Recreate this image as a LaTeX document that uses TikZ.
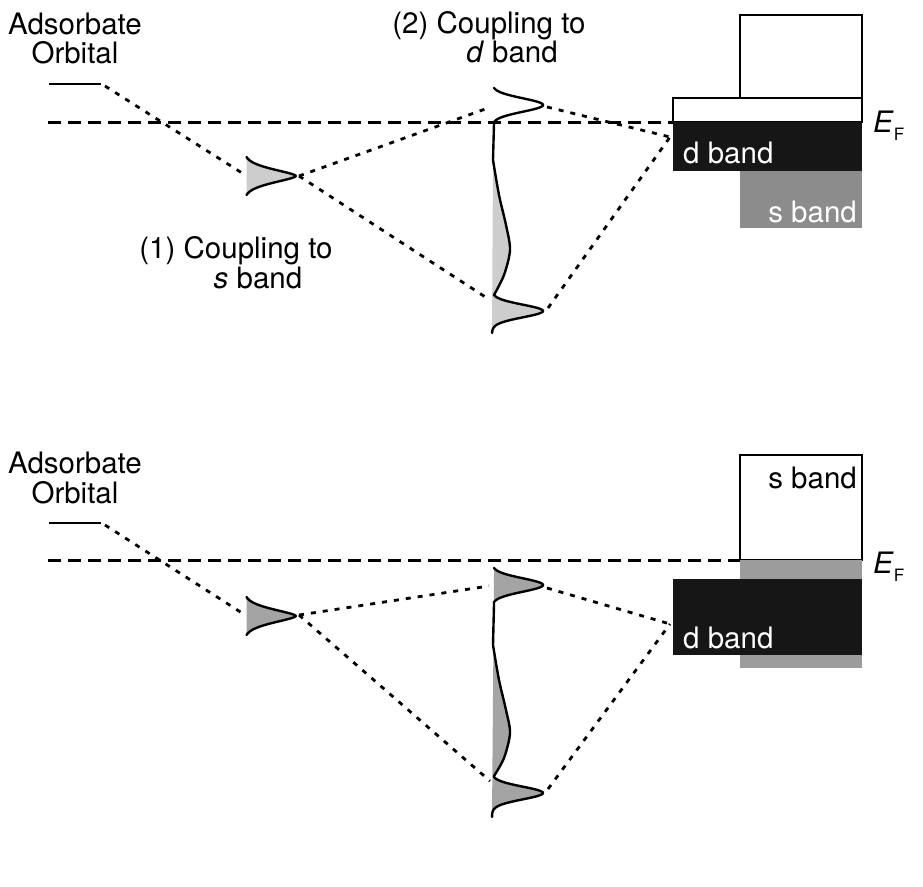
\documentclass[tikz,border=0pt]{standalone}
\usepackage{fontspec}
\setmainfont{TeX Gyre Heros}
\definecolor{bandblack}{HTML}{161616}
\definecolor{sgray}{HTML}{8C8C8C}
\definecolor{stripgray}{HTML}{9C9C9C}
\definecolor{lightpeak}{HTML}{CDCDCD}
\definecolor{darkpeak}{HTML}{A4A4A4}
\begin{document}
\begin{tikzpicture}[x=1pt,y=-1pt,
  fermi/.style={line width=3pt, dash pattern=on 13pt off 7pt},
  conn/.style={line width=2.8pt, dash pattern=on 5pt off 7pt},
  curve/.style={line width=2.4pt, line join=round, line cap=round},
  level/.style={line width=2.8pt},
  boxline/.style={line width=2pt},
  lbl/.style={font=\fontsize{29.5}{34}\selectfont, inner sep=0pt},
  wlbl/.style={lbl, text=white}
]
\useasboundingbox (0,0) rectangle (923,886);

% ================= TOP PANEL =================
\node[lbl, anchor=base] (adsTa) at (75,34) {Adsorbate};
\node[lbl, anchor=base] (adsTb) at (75,63) {Orbital};
\node[lbl, anchor=base] (cpTa) at (489,33) {(2) Coupling to};
\node[lbl, anchor=base] (cpTb) at (512,62) {\textit{d} band};
\node[lbl, anchor=base] (csTa) at (236,258) {(1) Coupling to};
\node[lbl, anchor=base] (csTb) at (258,288) {\textit{s} band};

% bands
\draw[boxline, fill=white] (740,15) rectangle (862,98);
\draw[boxline, fill=white] (673,98) rectangle (862,122);
\fill[bandblack] (673,122) rectangle (862,171);
\fill[sgray] (740,171) rectangle (862,228);
\node[wlbl, anchor=base west] (dbT) at (683,163) {d band};
\node[wlbl, anchor=base east] (sbT) at (857,222) {s band};
\node[lbl, anchor=base west] (efT) at (873,132) {\textit{E}\raisebox{-8pt}{\fontsize{17}{17}\selectfont F}};

% Fermi level
\coordinate (fermiTa) at (48,122);
\coordinate (fermiTb) at (673,122);
\draw[fermi] (fermiTa) -- (fermiTb);

% adsorbate level
\coordinate (orbTa) at (49,84);
\coordinate (orbTb) at (101,84);
\draw[level] (orbTa) -- (orbTb);

% s-coupled peak
\fill[lightpeak] plot[domain=-19:19, samples=60, variable=\t] ({244+52*exp(-pow(abs(\t)/9.5,1.6))},{176+\t}) -- cycle;
\draw[curve] plot[domain=-19:19, samples=60, variable=\t] ({244+52*exp(-pow(abs(\t)/9.5,1.6))},{176+\t});

% d-coupled DOS
\fill[lightpeak] (493,160) -- plot[smooth] coordinates {(493,160) (499,195) (506,225) (510,250) (504,275) (494,295)}
  -- plot[domain=-16:22, samples=60, variable=\t] ({492+51*exp(-\t*\t/80)},{311+\t}) -- (492,333) -- cycle;
\draw[curve] plot[domain=-17:17, samples=60, variable=\t] ({492+51*exp(-\t*\t/90)},{105+\t})
  -- plot[smooth] coordinates {(493,160) (499,195) (506,225) (510,250) (504,275) (494,295)}
  -- plot[domain=-16:22, samples=60, variable=\t] ({492+51*exp(-\t*\t/80)},{311+\t});

% connector points
\coordinate (orbT) at (105,86);
\coordinate (sLT) at (242,173);
\coordinate (sTipT) at (299,176);
\coordinate (dUbT) at (488,108);
\coordinate (dLbT) at (490,300);
\coordinate (dUtT) at (547,107);
\coordinate (dLtT) at (548,308);
\coordinate (bandT) at (670,137);

\draw[conn] (orbT) -- (sLT);
\draw[conn] (sTipT) -- (dUbT);
\draw[conn] (sTipT) -- (dLbT);
\draw[conn] (dUtT) -- (bandT);
\draw[conn] (dLtT) -- (bandT);

% ================= BOTTOM PANEL =================
\node[lbl, anchor=base] (adsBa) at (75,473) {Adsorbate};
\node[lbl, anchor=base] (adsBb) at (75,503) {Orbital};

% bands
\draw[boxline, fill=white] (740,455) rectangle (862,560);
\fill[stripgray] (740,560) rectangle (862,579);
\fill[bandblack] (673,579) rectangle (862,655);
\fill[stripgray] (740,655) rectangle (862,668);
\node[lbl, anchor=base east] (sbB) at (857,488) {s band};
\node[wlbl, anchor=base west] (dbB) at (683,648) {d band};
\node[lbl, anchor=base west] (efB) at (873,573) {\textit{E}\raisebox{-8pt}{\fontsize{17}{17}\selectfont F}};

% Fermi level
\coordinate (fermiBa) at (48,560);
\coordinate (fermiBb) at (740,560);
\draw[fermi] (fermiBa) -- (fermiBb);

% adsorbate level
\coordinate (orbBa) at (49,523);
\coordinate (orbBb) at (101,523);
\draw[level] (orbBa) -- (orbBb);

% s-coupled peak
\fill[darkpeak] plot[domain=-19:19, samples=60, variable=\t] ({244+52*exp(-pow(abs(\t)/9.5,1.6))},{616+\t}) -- cycle;
\draw[curve] plot[domain=-19:19, samples=60, variable=\t] ({244+52*exp(-pow(abs(\t)/9.5,1.6))},{616+\t});

% d-coupled DOS
\fill[darkpeak] plot[domain=-17:17, samples=60, variable=\t] ({492+51*exp(-\t*\t/90)},{585+\t})
  -- plot[smooth] coordinates {(493,645) (499,680) (506,710) (510,733) (504,758) (494,776)}
  -- plot[domain=-16:24, samples=60, variable=\t] ({492+51*exp(-\t*\t/80)},{793+\t}) -- (492,817) -- cycle;
\draw[curve] plot[domain=-17:17, samples=60, variable=\t] ({492+51*exp(-\t*\t/90)},{585+\t})
  -- plot[smooth] coordinates {(493,645) (499,680) (506,710) (510,733) (504,758) (494,776)}
  -- plot[domain=-16:24, samples=60, variable=\t] ({492+51*exp(-\t*\t/80)},{793+\t});

% connector points
\coordinate (orbB) at (105,525);
\coordinate (sLB) at (242,613);
\coordinate (sTipB) at (299,615);
\coordinate (dUbB) at (489,586);
\coordinate (dLbB) at (490,781);
\coordinate (dUtB) at (547,588);
\coordinate (dLtB) at (548,789);
\coordinate (bandB) at (670,624);

\draw[conn] (orbB) -- (sLB);
\draw[conn] (sTipB) -- (dUbB);
\draw[conn] (sTipB) -- (dLbB);
\draw[conn] (dUtB) -- (bandB);
\draw[conn] (dLtB) -- (bandB);
\end{tikzpicture}
\end{document}
